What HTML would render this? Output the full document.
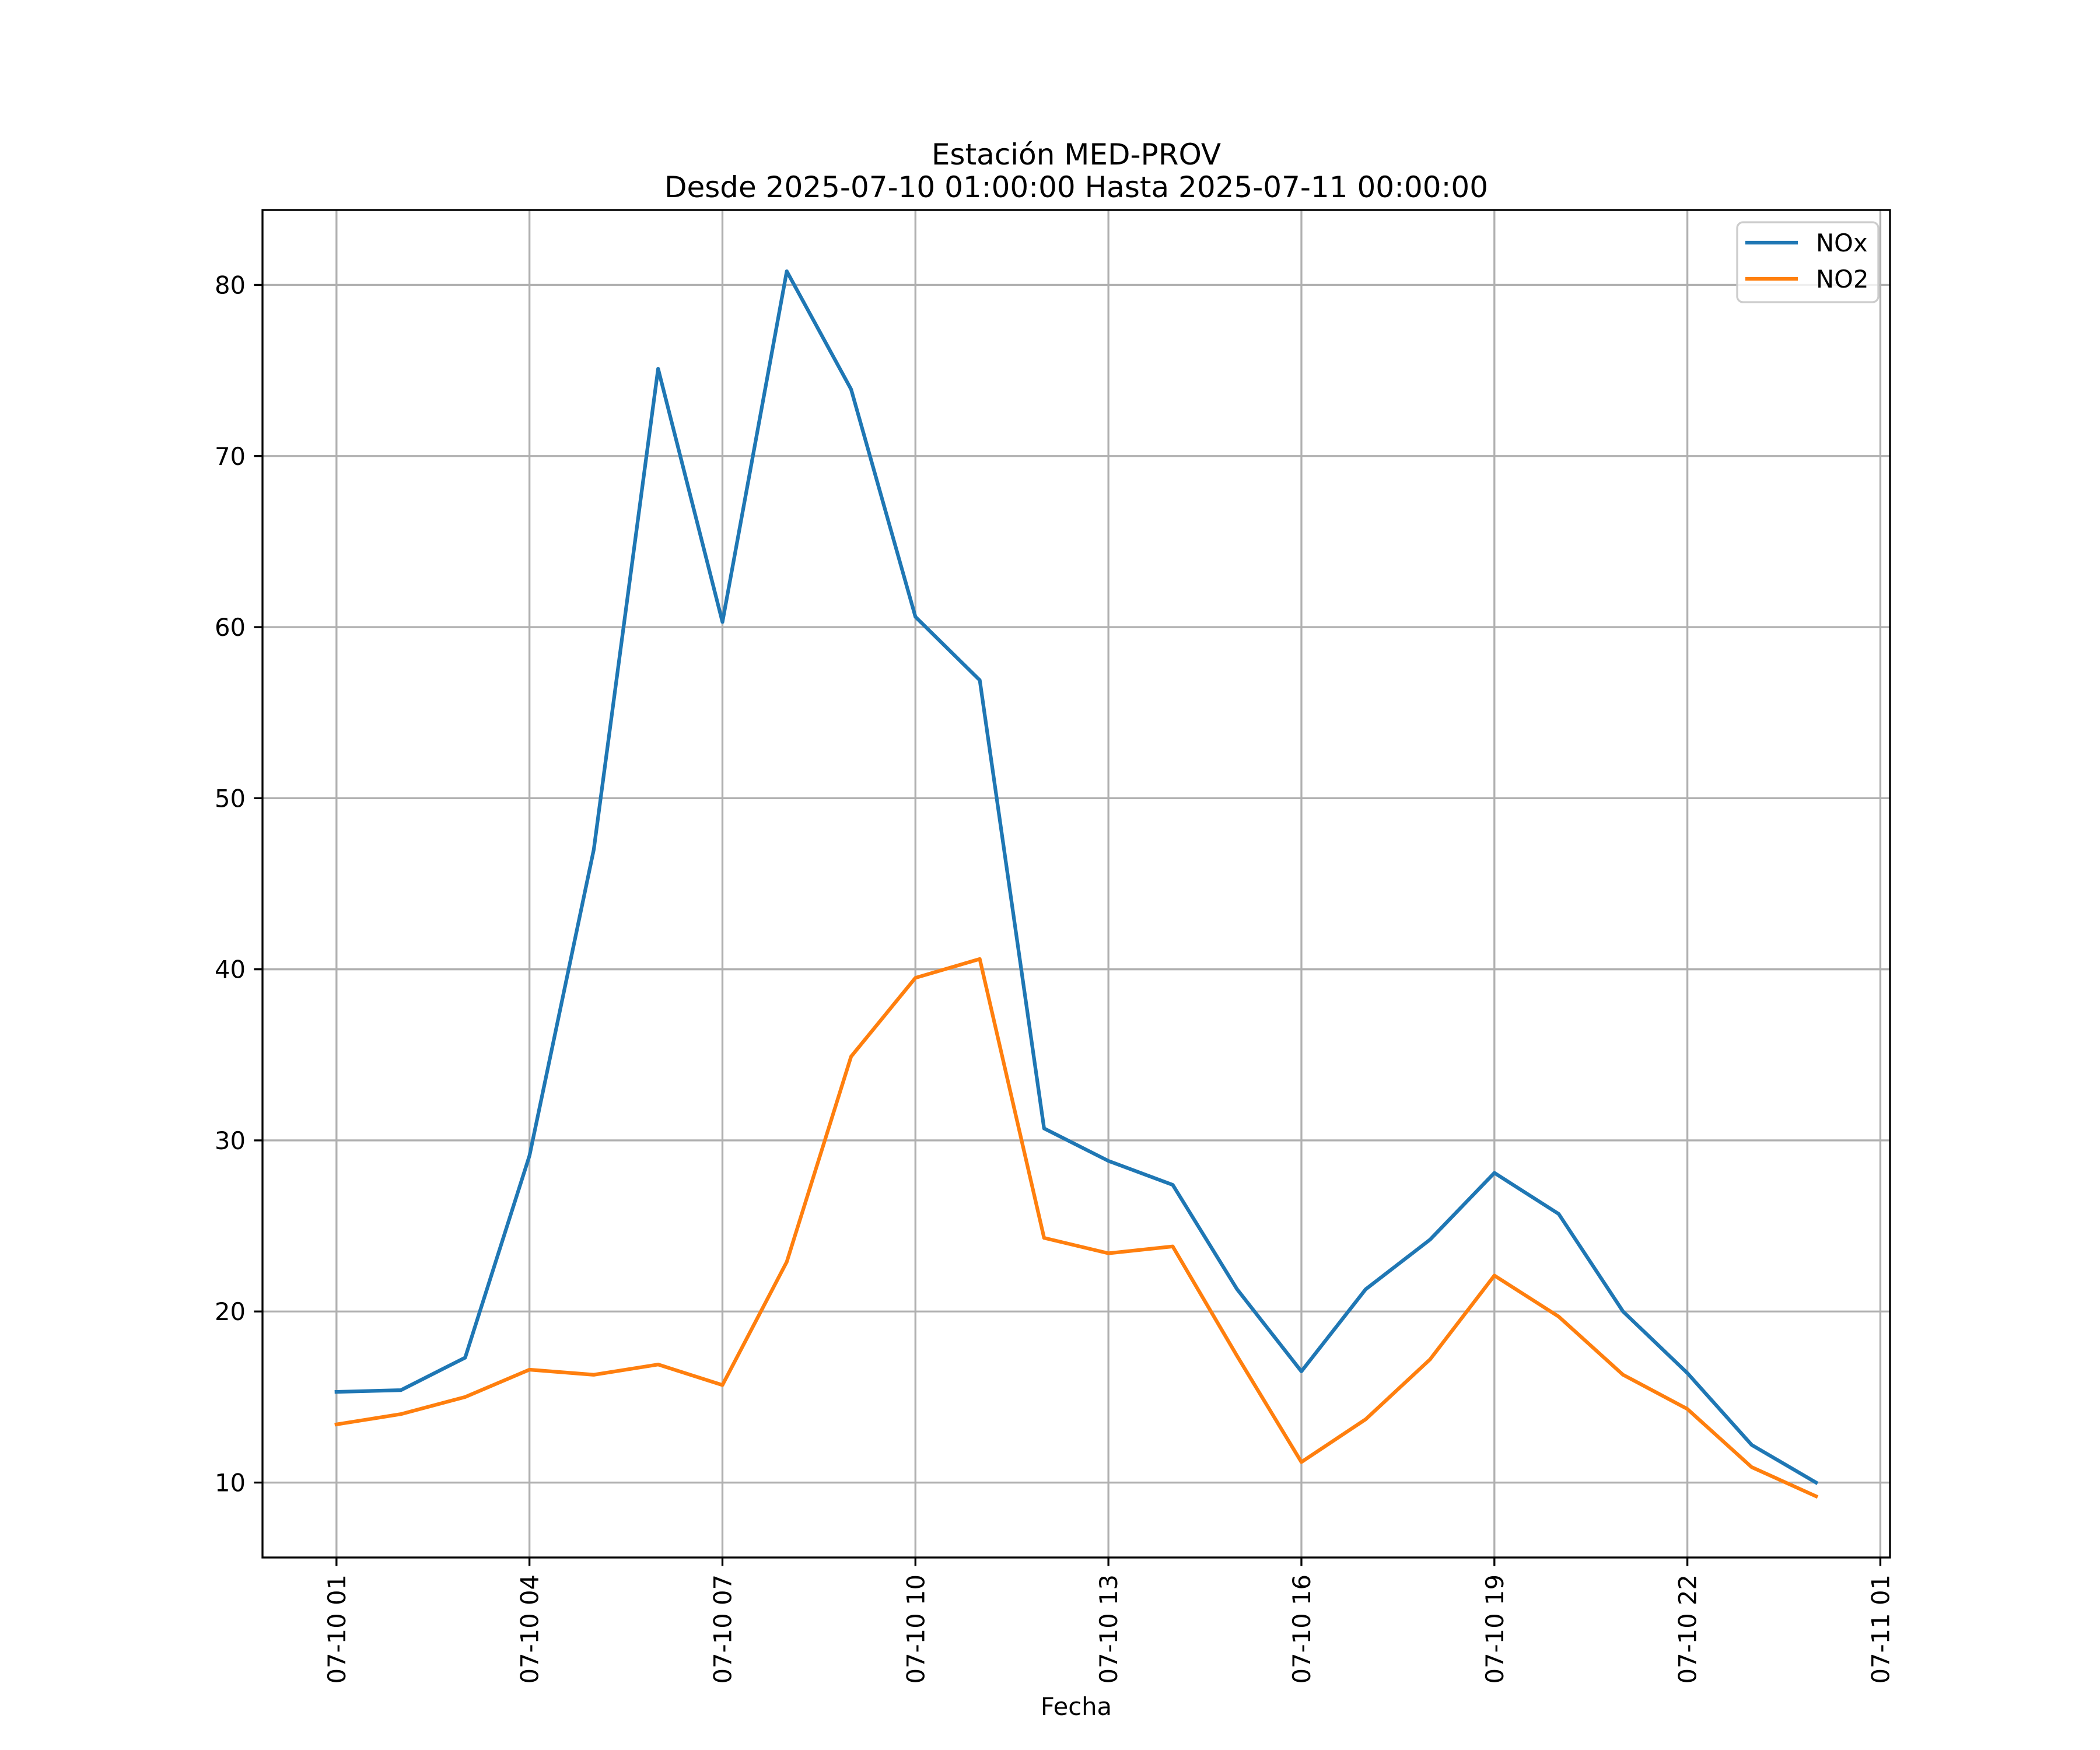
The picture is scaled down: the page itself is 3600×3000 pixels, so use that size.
<!DOCTYPE html>
<html><head><meta charset="utf-8"><style>
html,body{margin:0;padding:0;background:#fff;}
svg{display:block;font-family:"DejaVu Sans","Liberation Sans",sans-serif;}
</style></head><body>
<svg id="chart" width="3600" height="3000" viewBox="0 0 3600 3000" xmlns="http://www.w3.org/2000/svg">
<rect width="3600" height="3000" fill="#fff"/>
<text x="1845" y="282" font-size="50" text-anchor="middle">Estación MED-PROV</text>
<text x="1845" y="338" font-size="50" text-anchor="middle">Desde 2025-07-10 01:00:00 Hasta 2025-07-11 00:00:00</text>
<g id="grid"></g><g id="series"></g><g id="axes"></g>
<text x="1845" y="2940" font-size="41.7" text-anchor="middle">Fecha</text>
<g>
<rect x="2978" y="381" width="242" height="137" rx="10" fill="#fff" fill-opacity="0.8" stroke="#cccccc" stroke-width="3.3"/>
<line x1="2992" y1="416" x2="3082" y2="416" stroke="#1f77b4" stroke-width="6.25"/>
<text x="3113" y="431" font-size="41.7">NOx</text>
<line x1="2992" y1="478" x2="3082" y2="478" stroke="#ff7f0e" stroke-width="6.25"/>
<text x="3113" y="493" font-size="41.7">NO2</text>
</g>
</svg>
<script>
const hours = [1,2,3,4,5,6,7,8,9,10,11,12,13,14,15,16,17,18,19,20,21,22,23,24];
const noxValues = [15.3,15.4,17.3,29.1,47.0,75.1,60.3,80.8,73.9,60.6,56.9,30.7,28.8,27.4,21.3,16.5,21.3,24.2,28.1,25.7,20.0,16.4,12.2,10.0];
const no2Values = [13.4,14.0,15.0,16.6,16.3,16.9,15.7,22.9,34.9,39.5,40.6,24.3,23.4,23.8,17.4,11.2,13.7,17.2,22.1,19.7,16.3,14.3,10.9,9.2];
const xTickHours = [1,4,7,10,13,16,19,22,25];
const xTickLabels = ["07-10 01","07-10 04","07-10 07","07-10 10","07-10 13","07-10 16","07-10 19","07-10 22","07-11 01"];
const yTicks = [10,20,30,40,50,60,70,80];

const L=450,R=3240,T=360,B=2670;
const allV=noxValues.concat(no2Values);
const vmin=Math.min(...allV),vmax=Math.max(...allV);
const ylo=vmin-(vmax-vmin)*0.05, yhi=vmax+(vmax-vmin)*0.05;
const hmin=Math.min(...hours),hmax=Math.max(...hours);
const xlo=hmin-(hmax-hmin)*0.05, xhi=hmax+(hmax-hmin)*0.05;
const xs=h=>L+(h-xlo)/(xhi-xlo)*(R-L);
const ys=v=>B-(v-ylo)/(yhi-ylo)*(B-T);
const NS="http://www.w3.org/2000/svg";
function mk(tag,attrs,parent){const e=document.createElementNS(NS,tag);for(const k in attrs)e.setAttribute(k,attrs[k]);parent.appendChild(e);return e;}
const grid=document.getElementById('grid'),axes=document.getElementById('axes'),series=document.getElementById('series');
yTicks.forEach(v=>{const y=ys(v);
 const g=mk('line',{x1:L,x2:R,y1:y,y2:y,stroke:'#b0b0b0','stroke-width':3.33},grid);
 
 
 const t=mk('line',{x1:L-14.6,x2:L,y1:y,y2:y,stroke:'#000','stroke-width':3.33},axes);
 
 
 const l=mk('text',{x:L-29,y:y+15,'font-size':41.7,'text-anchor':'end'},axes);l.textContent=v;
 
 
});
xTickHours.forEach((h,i)=>{const x=xs(h);
 if(x<=R){const g=mk('line',{x1:x,x2:x,y1:T,y2:B,stroke:'#b0b0b0','stroke-width':3.33},grid);
 
 }
 const t=mk('line',{x1:x,x2:x,y1:B,y2:B+14.6,stroke:'#000','stroke-width':3.33},axes);
 
 
 const l=mk('text',{x:0,y:0,'font-size':41.7,'text-anchor':'end',transform:`translate(${x+15},${B+29}) rotate(-90)`},axes);l.textContent=xTickLabels[i];
 
 
});
function line(vals,color,name){const p=mk('polyline',{points:vals.map((v,i)=>xs(hours[i])+','+ys(v)).join(' '),fill:'none',stroke:color,'stroke-width':6.25,'stroke-linejoin':'round','stroke-linecap':'square'},series);
 
 }
line(noxValues,'#1f77b4','nox-line');
line(no2Values,'#ff7f0e','no2-line');
const fr=mk('rect',{x:L,y:T,width:R-L,height:B-T,fill:'none',stroke:'#000','stroke-width':3.33},axes);


</script>
</body></html>
